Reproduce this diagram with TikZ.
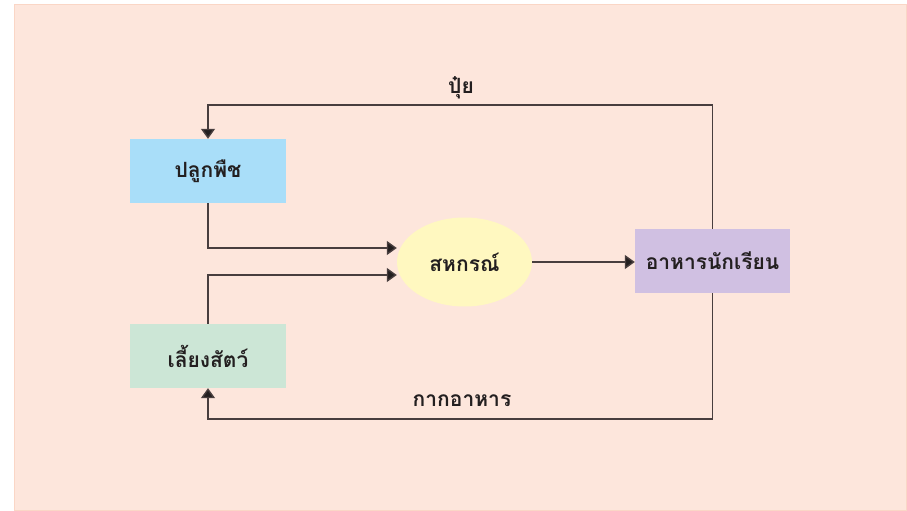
\documentclass[tikz,border=0pt]{standalone}
\usepackage{fontspec}
\newfontfamily\thaifont[Script=Thai]{Loma}
\usetikzlibrary{arrows.meta,shapes.geometric}
\definecolor{bgpeach}{RGB}{253,230,220}
\definecolor{bgedge}{RGB}{250,214,198}
\definecolor{cblue}{RGB}{169,222,249}
\definecolor{cgreen}{RGB}{204,230,214}
\definecolor{cyellow}{RGB}{255,248,192}
\definecolor{clav}{RGB}{208,192,226}
\definecolor{cline}{RGB}{72,62,62}
\definecolor{ctext}{RGB}{35,31,32}
\tikzset{
  box/.style={rectangle, minimum width=156pt, minimum height=64pt, inner sep=0pt, text=ctext, font=\thaifont\bfseries\fontsize{21}{25}\selectfont},
  oval/.style={ellipse, fill=cyellow, minimum width=135pt, minimum height=89pt, inner sep=0pt, text=ctext, font=\thaifont\bfseries\fontsize{21}{25}\selectfont},
  arr/.style={draw=cline, line width=1.4pt, -{Triangle[length=10pt,width=14pt,fill=ctext]}},
  lbl/.style={text=ctext, inner sep=0pt, font=\thaifont\bfseries\fontsize{21}{25}\selectfont}
}
\begin{document}
\begin{tikzpicture}[x=1pt,y=-1pt]
\useasboundingbox (0,0) rectangle (907,511);
\fill[white] (0,0) rectangle (907,511);
\draw[fill=bgpeach, draw=bgedge, line width=1pt] (14.5,4.5) rectangle (906,510);
\node[box, fill=cblue] (plant) at (208,171) {ปลูกพืช};
\node[box, fill=cgreen] (animal) at (208,356) {เลี้ยงสัตว์};
\node[oval] (coop) at (464.5,262) {สหกรณ์};
\node[box, fill=clav, minimum width=155pt] (food) at (712.5,261) {อาหารนักเรียน};
\coordinate (in1) at ([yshift=14pt]coop.west);
\coordinate (in2) at ([yshift=-13pt]coop.west);
\coordinate (top) at (712.5,105);
\coordinate (bot) at (712.5,419);
\draw[arr] (plant.south) |- (in1);
\draw[arr] (animal.north) |- (in2);
\draw[arr] (coop.east) -- (coop.east -| food.west);
\draw[arr] (food.north) -- (top) -| (plant.north);
\draw[arr] (food.south) -- (bot) -| (animal.south);
\node[lbl] (fert) at (461,88) {ปุ๋ย};
\node[lbl] (waste) at (462,401) {กากอาหาร};
\end{tikzpicture}
\end{document}
